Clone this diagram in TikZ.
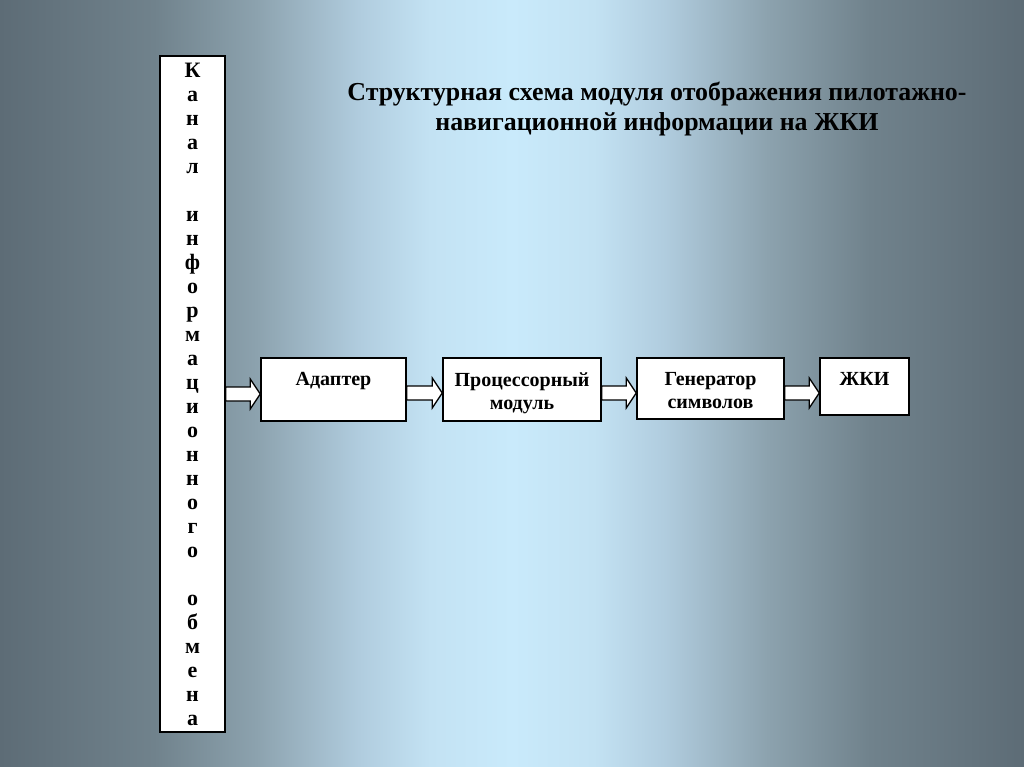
\documentclass[tikz,border=0pt]{standalone}
\usepackage{fontspec}
\setmainfont{Liberation Serif}
\usetikzlibrary{calc}
\definecolor{bgA}{RGB}{93,108,118}
\definecolor{bgB}{RGB}{112,130,140}
\definecolor{bgC}{RGB}{140,162,174}
\definecolor{bgD}{RGB}{176,204,222}
\definecolor{bgE}{RGB}{195,226,243}
\definecolor{bgF}{RGB}{201,234,251}
\pgfdeclarehorizontalshading{slidebg}{100bp}{color(0bp)=(bgA); color(25bp)=(bgA); color(32.5bp)=(bgB); color(37.5bp)=(bgC); color(42.5bp)=(bgD); color(46bp)=(bgE); color(50bp)=(bgF); color(54bp)=(bgE); color(57.5bp)=(bgD); color(62.5bp)=(bgC); color(67.5bp)=(bgB); color(75bp)=(bgA); color(100bp)=(bgA)}
\tikzset{
  box/.style={draw=black, line width=1.1pt, fill=white, inner sep=0pt},
  boxtext/.style={font=\bfseries\fontsize{15}{17.25}\selectfont, align=center, inner sep=0pt, anchor=north},
  blockarrow/.style={draw=black, line width=1pt, fill=white, line join=miter},
}
\newcommand{\blkarrow}[3]{% from node, to node, y
  \coordinate (ba1) at (#1.east |- 0,#3);
  \coordinate (ba2) at (#2.west |- 0,#3);
  \draw[blockarrow] ($(ba1)+(0,-7)$) -- ($(ba2)+(-10,-7)$) -- ($(ba2)+(-10,-15)$) -- (ba2)
     -- ($(ba2)+(-10,15)$) -- ($(ba2)+(-10,7)$) -- ($(ba1)+(0,7)$) -- cycle;
}
\begin{document}
\begin{tikzpicture}[x=0.75pt,y=-0.75pt]
\useasboundingbox (0,0) rectangle (1024,767);
\shade[shading=slidebg] (0,0) rectangle (1024,767);
% title
\node[font=\bfseries\fontsize{19.4}{22.5}\selectfont, align=center] (title) at (657,109)
  {Структурная схема модуля отображения пилотажно-\\навигационной информации на ЖКИ};
% channel column
\node[box, minimum width=48.75pt, minimum height=507pt, align=center,
      font=\bfseries\fontsize{16.5}{18}\selectfont] (chan) at (192.5,394)
  {К\\а\\н\\а\\л\\ \\и\\н\\ф\\о\\р\\м\\а\\ц\\и\\о\\н\\н\\о\\г\\о\\ \\о\\б\\м\\е\\н\\а};
% blocks
\node[box, minimum width=108.75pt, minimum height=47.25pt] (adapt) at (333.5,389.5) {};
\node[box, minimum width=118.5pt, minimum height=47.25pt] (proc) at (522,389.5) {};
\node[box, minimum width=110.25pt, minimum height=45.75pt] (gen) at (710.5,388.5) {};
\node[box, minimum width=66.75pt, minimum height=42.75pt] (lcd) at (864.5,386.5) {};
\node[boxtext] (adaptT) at ($(adapt.north)+(0,15)$) {Адаптер};
\node[boxtext] (procT) at ($(proc.north)+(0,15)$) {Процессорный\\модуль};
\node[boxtext] (genT) at ($(gen.north)+(0,15)$) {Генератор\\символов};
\node[boxtext] (lcdT) at ($(lcd.north)+(0,15)$) {ЖКИ};
% arrows
\blkarrow{chan}{adapt}{394}
\blkarrow{adapt}{proc}{393}
\blkarrow{proc}{gen}{393}
\blkarrow{gen}{lcd}{393}
\end{tikzpicture}
\end{document}
